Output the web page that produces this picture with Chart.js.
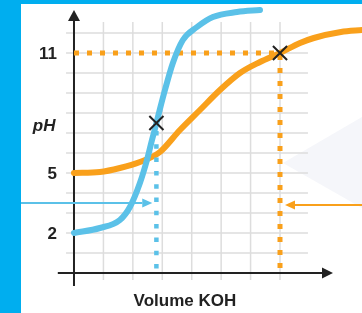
<!DOCTYPE html>
<html>
<head>
<meta charset="utf-8">
<style>
  html, body { margin: 0; padding: 0; background: #fff; }
  #wrap { width: 362px; height: 313px; position: relative; }
</style>
</head>
<body>
<div id="wrap"><canvas id="myChart"></canvas></div>
<script src="https://cdn.jsdelivr.net/npm/chart.js"></script>
<script>
// x = volume of KOH in grid units, y = pH
var strongVolume = [0, 0.88, 1.56, 1.9, 2.24, 2.48, 2.65, 2.75, 2.92, 3.1, 3.36, 3.7, 4.18, 4.72, 5.54, 6.32];
var strongPH = [2.0, 2.25, 2.65, 3.3, 4.5, 5.65, 6.65, 7.2, 8.2, 9.2, 10.5, 11.65, 12.3, 12.8, 13.05, 13.15];

var weakVolume = [0, 0.88, 1.56, 2.24, 2.92, 3.6, 4.28, 4.96, 5.64, 6.32, 7.0, 7.68, 8.15, 9.07, 9.8];
var weakPH = [5.0, 5.05, 5.25, 5.55, 6.05, 7.15, 8.15, 9.15, 10.0, 10.55, 11.0, 11.5, 11.75, 12.05, 12.15];

// marked points (volume, pH)
var strongMark = [2.8, 7.5];
var weakMark = [7.0, 11.0];

var yTickLabels = [2, 5, 11];
var yTitle = "pH";
var xTitle = "Volume KOH";

// arrows pointing at the curves (pH level)
var blueArrowPH = 3.5;
var orangeArrowPH = 3.4;

var blue = "#5bc1e8";
var orange = "#f9a01b";
var ink = "#222222";

function pts(xs, ys) {
  var out = [];
  for (var i = 0; i < xs.length; i++) out.push({ x: xs[i], y: ys[i] });
  return out;
}

function arrowHead(c, x, y, dir, len, half) {
  c.beginPath();
  c.moveTo(x, y);
  if (dir === "right") { c.lineTo(x - len, y - half); c.lineTo(x - len, y + half); }
  if (dir === "left") { c.lineTo(x + len, y - half); c.lineTo(x + len, y + half); }
  if (dir === "up") { c.lineTo(x - half, y + len); c.lineTo(x + half, y + len); }
  c.closePath();
  c.fill();
}

var decor = {
  id: "decor",
  beforeDraw: function (chart) {
    var c = chart.ctx, w = chart.width, h = chart.height;
    c.save();
    c.fillStyle = "#ffffff";
    c.fillRect(0, 0, w, h);
    // faint play shape at the right
    c.fillStyle = "#f5f6fa";
    c.beginPath();
    c.moveTo(283, 163); c.lineTo(w, 117); c.lineTo(w, 208);
    c.closePath(); c.fill();
    // blue frame
    c.fillStyle = "#00aeef";
    c.fillRect(0, 0, 21, h);
    c.fillRect(0, 0, w, 4);
    c.restore();
  },
  beforeDatasetsDraw: function (chart) {
    var c = chart.ctx;
    var xs = chart.scales.x, ys = chart.scales.y;
    var X = function (v) { return xs.getPixelForValue(v); };
    var Y = function (v) { return ys.getPixelForValue(v); };
    var i;
    c.save();
    // grid
    c.strokeStyle = "#dddddd";
    c.lineWidth = 1.5;
    for (i = 1; i <= 7; i++) {
      c.beginPath(); c.moveTo(X(i), Y(12.55)); c.lineTo(X(i), Y(-0.35)); c.stroke();
    }
    for (i = 1; i <= 12; i++) {
      c.beginPath(); c.moveTo(X(-0.27), Y(i)); c.lineTo(X(7.95), Y(i)); c.stroke();
    }
    // axes
    c.strokeStyle = ink; c.fillStyle = ink; c.lineWidth = 2;
    c.beginPath(); c.moveTo(X(0), Y(-0.65)); c.lineTo(X(0), Y(12.65)); c.stroke();
    arrowHead(c, X(0), Y(13.15), "up", 11, 6);
    c.beginPath(); c.moveTo(X(-0.55), Y(0)); c.lineTo(X(8.45), Y(0)); c.stroke();
    arrowHead(c, X(8.8), Y(0), "right", 11, 5.5);
    // labels
    c.font = "bold 17px 'Liberation Sans', Arial, sans-serif";
    c.textAlign = "right"; c.textBaseline = "middle";
    yTickLabels.forEach(function (t) { c.fillText(String(t), X(-0.58), Y(t) + 1); });
    c.font = "italic bold 17px 'Liberation Sans', Arial, sans-serif";
    c.fillText(yTitle, X(-0.63), Y(7.35));
    c.font = "bold 17px 'Liberation Sans', Arial, sans-serif";
    c.textAlign = "center";
    c.fillText(xTitle, X(3.77), Y(-1.4));
    // pointer arrows
    c.lineWidth = 2;
    c.strokeStyle = blue; c.fillStyle = blue;
    c.beginPath(); c.moveTo(X(-1.8), Y(blueArrowPH)); c.lineTo(X(2.32), Y(blueArrowPH)); c.stroke();
    arrowHead(c, X(2.66), Y(blueArrowPH), "right", 10, 4.5);
    c.strokeStyle = orange; c.fillStyle = orange;
    c.beginPath(); c.moveTo(X(9.8), Y(orangeArrowPH)); c.lineTo(X(7.5), Y(orangeArrowPH)); c.stroke();
    arrowHead(c, X(7.17), Y(orangeArrowPH), "left", 10, 4.5);
    c.restore();
  }
};

var ctx = document.getElementById("myChart").getContext("2d");

var myChart = new Chart(ctx, {
  type: "scatter",
  data: {
    datasets: [
      {
        label: "marks",
        data: [{ x: strongMark[0], y: strongMark[1] }, { x: weakMark[0], y: weakMark[1] }],
        pointStyle: "crossRot",
        pointRadius: 10,
        pointBorderWidth: 2,
        borderColor: ink,
        backgroundColor: ink,
        showLine: false,
        order: 0
      },
      {
        label: "strong guide",
        data: [{ x: strongMark[0], y: strongMark[1] - 0.4 }, { x: strongMark[0], y: 0 }],
        showLine: true,
        borderColor: blue,
        borderWidth: 4.5,
        borderDash: [4.5, 8.8],
        pointRadius: 0,
        order: 1
      },
      {
        label: "strong acid",
        data: pts(strongVolume, strongPH),
        showLine: true,
        borderColor: blue,
        borderWidth: 6,
        borderCapStyle: "round",
        cubicInterpolationMode: "monotone",
        pointRadius: 0,
        order: 2
      },
      {
        label: "weak guide",
        data: [{ x: 0, y: weakMark[1] }, { x: weakMark[0], y: weakMark[1] }, { x: weakMark[0], y: 0 }],
        showLine: true,
        borderColor: orange,
        borderWidth: 5,
        borderDash: [5, 8],
        pointRadius: 0,
        order: 3
      },
      {
        label: "weak acid",
        data: pts(weakVolume, weakPH),
        showLine: true,
        borderColor: orange,
        borderWidth: 6,
        borderCapStyle: "round",
        cubicInterpolationMode: "monotone",
        pointRadius: 0,
        order: 4
      }
    ]
  },
  options: {
    responsive: true,
    maintainAspectRatio: false,
    animation: false,
    layout: { padding: 0, autoPadding: false },
    plugins: { legend: { display: false }, tooltip: { enabled: false } },
    scales: {
      x: { type: "linear", display: false, min: -2.514, max: 9.786 },
      y: { type: "linear", display: false, min: -2.0, max: 13.65 }
    }
  },
  plugins: [decor]
});
</script>
</body>
</html>
